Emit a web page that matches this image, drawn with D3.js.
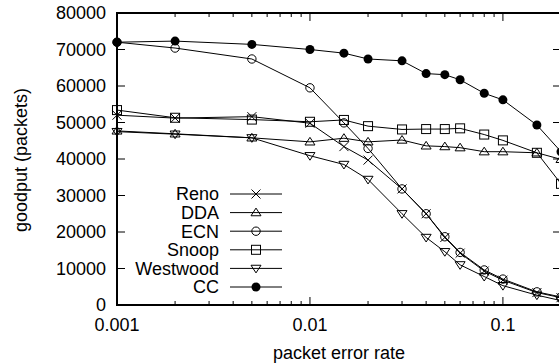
<!DOCTYPE html>
<html>
<head>
<meta charset="utf-8">
<script src="https://cdn.jsdelivr.net/npm/d3@7"></script>
<style>
  body { margin: 0; background: #fff; }
  svg { display: block; font-family: "Liberation Sans", Arial, sans-serif; }
</style>
</head>
<body>
<svg id="chart" width="559" height="364"></svg>
<script>
// packet error rates (x)
const rates = [0.001, 0.002, 0.005, 0.01, 0.015, 0.02, 0.03, 0.04, 0.05, 0.06, 0.08, 0.1, 0.15, 0.2];

// goodput per protocol
const reno     = [52000, 51200, 51600, 49800, 43400, 39700, 31800, 25000, 18500, 14200, 9300, 6800, 3400, 2000];
const dda      = [47700, 46900, 45800, 44700, 45700, 44700, 45200, 43600, 43400, 43100, 42000, 42000, 41700, 39900];
const ecn      = [72000, 70400, 67400, 59500, 49900, 42900, 31800, 25000, 18700, 14400, 9600, 7100, 3600, 2200];
const snoop    = [53400, 51300, 50800, 50200, 50700, 49000, 48100, 48200, 48200, 48400, 46700, 45100, 41700, 33200];
const westwood = [47500, 46800, 45800, 40900, 38500, 34400, 25000, 18500, 14600, 11000, 7800, 5300, 2700, 1200];
const cc       = [72000, 72300, 71400, 70000, 69000, 67400, 66900, 63400, 63100, 61700, 58000, 56200, 49300, 42000];

const seriesNames = ['Reno', 'DDA', 'ECN', 'Snoop', 'Westwood', 'CC'];
const seriesValues = [reno, dda, ecn, snoop, westwood, cc];
const seriesMarkers = ['times', 'triUp', 'circle', 'square', 'triDown', 'dot'];

const yTicks = [0, 10000, 20000, 30000, 40000, 50000, 60000, 70000, 80000];
const xTicks = [0.001, 0.01, 0.1];

const svg = d3.select('#chart');
const margin = { top: 13, right: -2, bottom: 59, left: 117 };
const width = 559, height = 364;

const x = d3.scaleLog()
  .domain([0.001, 0.2])
  .range([margin.left, width - margin.right]);
const y = d3.scaleLinear()
  .domain([0, 80000])
  .range([height - margin.bottom, margin.top]);

const x0 = x.range()[0], x1 = x.range()[1];
const y0 = y.range()[0], y1 = y.range()[1];

// minor log ticks
const minorTicks = [];
[0.001, 0.01, 0.1].forEach(d => {
  for (let k = 2; k <= 9; k++) {
    const v = d * k;
    if (v <= 0.2 + 1e-9) minorTicks.push(v);
  }
});

const ticks = svg.append('g').attr('stroke', '#000').attr('stroke-width', 1);
// y ticks left and right
yTicks.forEach(v => {
  ticks.append('line').attr('x1', x0).attr('x2', x0 + 8).attr('y1', y(v)).attr('y2', y(v));
  ticks.append('line').attr('x1', x1).attr('x2', x1 - 8).attr('y1', y(v)).attr('y2', y(v));
});
// x ticks bottom and top
xTicks.forEach(v => {
  ticks.append('line').attr('x1', x(v)).attr('x2', x(v)).attr('y1', y0).attr('y2', y0 - 8);
  ticks.append('line').attr('x1', x(v)).attr('x2', x(v)).attr('y1', y1).attr('y2', y1 + 8);
});
minorTicks.forEach(v => {
  ticks.append('line').attr('x1', x(v)).attr('x2', x(v)).attr('y1', y0).attr('y2', y0 - 4);
  ticks.append('line').attr('x1', x(v)).attr('x2', x(v)).attr('y1', y1).attr('y2', y1 + 4);
});

// tick labels
svg.append('g').selectAll('text').data(yTicks).join('text')
  .attr('x', x0 - 11).attr('y', d => y(d)).attr('dy', '0.35em')
  .attr('text-anchor', 'end').attr('font-size', 18).text(d => d);
svg.append('g').selectAll('text').data(xTicks).join('text')
  .attr('x', d => x(d)).attr('y', y0 + 26)
  .attr('text-anchor', 'middle').attr('font-size', 18).text(d => d);

// axis titles
svg.append('text').attr('x', 339).attr('y', 359)
  .attr('text-anchor', 'middle').attr('font-size', 18).text('packet error rate');
svg.append('text').attr('transform', 'translate(21,160) rotate(-90)')
  .attr('text-anchor', 'middle').attr('dy', '0.35em').attr('font-size', 18).text('goodput (packets)');

// marker drawing
function drawMarker(g, type, cx, cy) {
  const s = 4.5;
  if (type === 'times') {
    g.append('path').attr('d', `M${cx - s},${cy - s}L${cx + s},${cy + s}M${cx - s},${cy + s}L${cx + s},${cy - s}`)
      .attr('stroke', '#000').attr('fill', 'none');
  } else if (type === 'triUp') {
    g.append('path').attr('d', `M${cx},${cy - s}L${cx + s + 0.5},${cy + s * 0.7}L${cx - s - 0.5},${cy + s * 0.7}Z`)
      .attr('stroke', '#000').attr('fill', 'none');
  } else if (type === 'triDown') {
    g.append('path').attr('d', `M${cx},${cy + s}L${cx + s + 0.5},${cy - s * 0.7}L${cx - s - 0.5},${cy - s * 0.7}Z`)
      .attr('stroke', '#000').attr('fill', 'none');
  } else if (type === 'square') {
    g.append('rect').attr('x', cx - s).attr('y', cy - s).attr('width', 2 * s).attr('height', 2 * s)
      .attr('stroke', '#000').attr('fill', 'none');
  } else if (type === 'circle') {
    g.append('circle').attr('cx', cx).attr('cy', cy).attr('r', 4.2)
      .attr('stroke', '#000').attr('fill', 'none');
  } else if (type === 'dot') {
    g.append('circle').attr('cx', cx).attr('cy', cy).attr('r', 4.5).attr('fill', '#000');
  }
}

const line = d3.line().x(d => x(d[0])).y(d => y(d[1]));

seriesValues.forEach((vals, i) => {
  const pts = rates.map((r, j) => [r, vals[j]]);
  const g = svg.append('g');
  g.append('path').attr('d', line(pts)).attr('fill', 'none').attr('stroke', '#000').attr('stroke-width', 1);
  pts.forEach(p => drawMarker(g, seriesMarkers[i], x(p[0]), y(p[1])));
});

// legend
const legend = svg.append('g');
seriesNames.forEach((name, i) => {
  const ly = 194 + i * 18.6;
  legend.append('text').attr('x', 219).attr('y', ly).attr('dy', '0.35em')
    .attr('text-anchor', 'end').attr('font-size', 18).text(name);
  legend.append('line').attr('x1', 230).attr('x2', 282).attr('y1', ly).attr('y2', ly)
    .attr('stroke', '#000').attr('stroke-width', 1);
  drawMarker(legend, seriesMarkers[i], 256, ly);
});

// frame
svg.append('rect').attr('x', x0).attr('y', y1).attr('width', x1 - x0).attr('height', y0 - y1)
  .attr('fill', 'none').attr('stroke', '#000').attr('stroke-width', 2);
</script>
</body>
</html>
